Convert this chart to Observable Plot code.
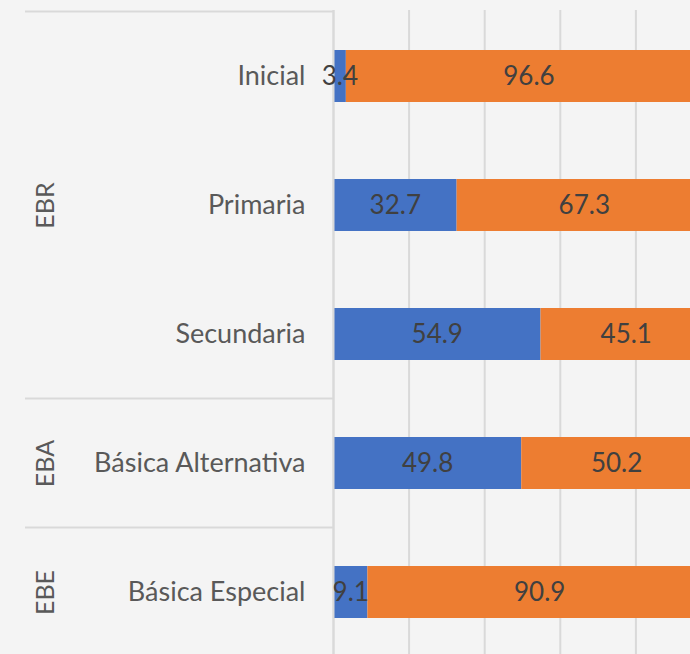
<!DOCTYPE html>
<html><head><meta charset="utf-8">
<script src="https://cdn.jsdelivr.net/npm/d3@7"></script>
<script src="https://cdn.jsdelivr.net/npm/@observablehq/plot@0.6"></script>
<style>
html,body{margin:0;padding:0;background:#f4f4f4;overflow:hidden;width:690px;height:654px}
#chart{width:712px}
#chart svg{display:block;max-width:none !important;width:712px;height:660px}
</style>
</head><body><div id="chart"></div>
<script>
const categories = ["Inicial", "Primaria", "Secundaria", "Básica Alternativa", "Básica Especial"];
const groups = ["EBR", "EBR", "EBR", "EBA", "EBE"];
const seriesNames = ["Serie 1", "Serie 2"];
const blueValues = [3.4, 32.7, 54.9, 49.8, 9.1];
const orangeValues = [96.6, 67.3, 45.1, 50.2, 90.9];
const xTicks = [0, 20, 40, 60, 80, 100];
const seriesColors = ["#4472C4", "#ED7D31"];

const rows = [];
categories.forEach((c, i) => {
  rows.push({cat: c, series: seriesNames[0], value: blueValues[i]});
  rows.push({cat: c, series: seriesNames[1], value: orangeValues[i]});
});

// group label rows: placed at the middle category of each group
const groupRows = [];
const uniqueGroups = [...new Set(groups)];
uniqueGroups.forEach(g => {
  const cats = categories.filter((c, i) => groups[i] === g);
  groupRows.push({group: g, cat: cats[Math.floor(cats.length / 2)]});
});

const plot = Plot.plot({
  width: 712,
  height: 660,
  marginLeft: 333,
  marginRight: 1,
  marginTop: 10,
  marginBottom: 2.5,
  style: {fontFamily: "Lato", background: "#f4f4f4", maxWidth: "none"},
  x: {domain: [0, 100], axis: null},
  y: {domain: categories, paddingInner: 0.6, paddingOuter: 0.3, axis: null, label: null},
  color: {domain: seriesNames, range: seriesColors},
  marks: [
    Plot.gridX(xTicks, {stroke: "#d9d9d9", strokeOpacity: 1, strokeWidth: 2}),
    Plot.barX(rows, {x: "value", y: "cat", fill: "series", z: "series"}),
    Plot.ruleX([0], {stroke: "#d9d9d9", strokeWidth: 2}),
    Plot.text(rows, Plot.stackX({
      x: "value", y: "cat", z: "series",
      text: d => d.value.toFixed(1),
      fill: "#404040", fontSize: 26
    })),
    Plot.axisY({tickSize: 0, tickPadding: 28, fontSize: 27, color: "#595959", label: null}),
    Plot.text(groupRows, {
      y: "cat", text: "group", frameAnchor: "left", textAnchor: "middle", dx: -288,
      rotate: -90, fontSize: 25, fill: "#595959"
    })
  ]
});

document.getElementById("chart").appendChild(plot);

// group separator lines, positioned from the y scale
const ys = plot.scale("y");
const xs = plot.scale("x");
const svg = d3.select(plot);
const gap = ys.step - ys.bandwidth;
categories.forEach((c, i) => {
  if (i === 0 || groups[i] !== groups[i - 1]) {
    const yy = ys.apply(c) - gap / 2;
    svg.append("line")
      .attr("x1", 25).attr("x2", xs.apply(0))
      .attr("y1", yy).attr("y2", yy)
      .attr("stroke", "#d9d9d9").attr("stroke-width", 2);
  }
});
</script>
</body></html>
